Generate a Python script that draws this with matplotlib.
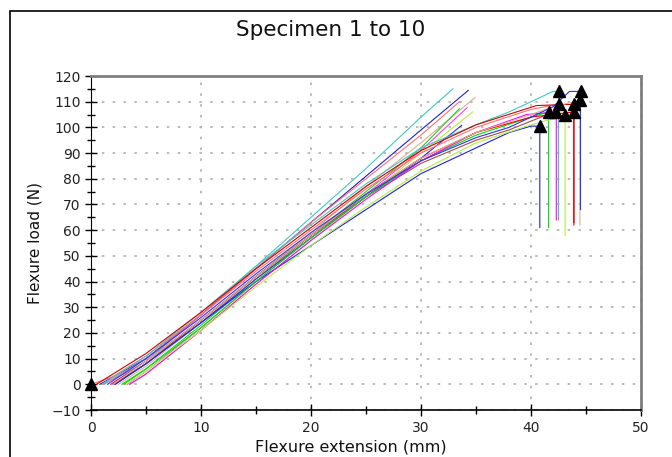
import matplotlib
matplotlib.use("Agg")
import matplotlib.pyplot as plt
from matplotlib.patches import Rectangle
from matplotlib.ticker import MultipleLocator

# full specimen curves (extension mm, load N), ending at break then drop
full_colors = ['#2020e0', '#00e000', '#ff00ff', '#ff7070', '#40c8c8',
               '#b0f040', '#ff0000', '#d00000', '#d8b090', '#3030ff']
full_x = [
    [2.2, 5, 10, 15, 20, 25, 30, 35, 38, 40, 40.8, 40.8],
    [3.0, 5, 10, 15, 20, 25, 30, 35, 40, 41.6, 41.6],
    [3.5, 5, 10, 15, 20, 25, 30, 35, 39.6, 42.3, 42.3],
    [0.0, 2, 5, 10, 15, 20, 25, 30, 35, 40, 42.5, 42.5],
    [1.0, 5, 10, 15, 20, 25, 30, 35, 38, 40, 42, 42.5, 42.5],
    [3.2, 5, 10, 15, 20, 25, 30, 35, 40, 43.1, 43.1],
    [1.8, 5, 10, 15, 20, 25, 30, 35, 40, 43.9, 43.9],
    [0.5, 5, 10, 15, 20, 25, 30, 35, 40.5, 43.9, 43.9],
    [2.0, 5, 10, 15, 20, 25, 30, 35, 40, 42, 44.45, 44.45],
    [1.5, 5, 10, 15, 20, 25, 30, 35, 38, 40, 42, 43.5, 44.5, 44.5],
]
full_y = [
    [0, 8, 24, 40, 54, 68, 82, 92, 98, 100.5, 100.5, 61],
    [0, 6, 22, 40, 57, 73, 87, 97, 104, 106, 61],
    [0, 4, 21, 39, 56, 72, 87, 98, 105, 106, 64],
    [0, 3, 11, 27, 44, 60, 76, 90, 100, 107, 109, 64],
    [0, 11, 28, 46, 62, 78, 92, 101, 106, 110, 114, 114, 65],
    [0, 5, 21, 38, 54, 69, 83, 94, 101, 104.7, 58],
    [0, 9, 25, 42, 58, 74, 88, 98, 104, 106, 62],
    [0, 12, 28, 45, 61, 77, 91, 101, 108.5, 109, 63],
    [0, 9, 25, 42, 58, 74, 88, 98, 105, 108, 110.5, 62],
    [0, 10, 26, 43, 59, 74, 87, 96, 100, 104, 108, 114, 114, 68],
]

# partial (straight) curves
part_colors = ['#40c8c8', '#2020d0', '#ff7070', '#d8b090', '#20d020',
               '#ff40ff', '#b0f040', '#3030e0', '#a05040']
part_x = [
    [1.0, 3, 5, 10, 15, 20, 25, 30, 32.9],
    [0.8, 5, 10, 15, 20, 25, 30, 34.3],
    [1.2, 5, 10, 15, 20, 25, 30, 33.5],
    [2.5, 5, 10, 15, 20, 25, 30, 34.9],
    [2.8, 5, 10, 15, 20, 25, 30, 33.5],
    [3.3, 5, 10, 15, 20, 25, 30, 34.2],
    [3.6, 5, 10, 15, 20, 25, 30, 34.7],
    [2.0, 5, 10, 15, 20, 25, 30, 33.7],
    [2.2, 5, 10, 15, 20, 25, 30, 35, 38, 41.5],
]
part_y = [
    [0, 4, 9, 27, 46, 65, 84, 104, 115],
    [0, 10, 27, 45, 63, 81, 99, 114.4],
    [0, 10, 27, 45, 63, 80, 97, 110],
    [0, 7, 24, 42, 59, 77, 94, 111.6],
    [0, 6, 23, 41, 58, 75, 92, 107.3],
    [0, 5, 22, 40, 57, 74, 91, 107.7],
    [0, 4, 21, 39, 56, 73, 90, 106],
    [0, 8, 24, 41, 57, 73, 88, 100.8],
    [0, 8, 25, 42, 58, 73, 86, 95, 99, 105],
]

# break markers
break_x = [0, 40.8, 41.6, 42.3, 42.5, 42.5, 43.1, 43.9, 43.9, 44.45, 44.5]
break_y = [0, 100.5, 106, 106, 109, 114, 104.7, 106, 109, 110.5, 114]

fig = plt.figure(figsize=(6.72, 4.57), dpi=100)
ax = fig.add_axes([91 / 672, 1 - 410 / 457, 550 / 672, 334 / 457])

for xs, ys, c in zip(part_x, part_y, part_colors):
    ax.plot(xs, ys, color=c, lw=0.8)
for xs, ys, c in zip(full_x, full_y, full_colors):
    ax.plot(xs, ys, color=c, lw=0.8)
ax.plot(break_x, break_y, '^', color='black', ms=8, ls='none', clip_on=False, zorder=5)

ax.set_xlim(0, 50)
ax.set_ylim(-10, 120)
ax.xaxis.set_major_locator(MultipleLocator(10))
ax.xaxis.set_minor_locator(MultipleLocator(5))
ax.yaxis.set_major_locator(MultipleLocator(10))
ax.yaxis.set_minor_locator(MultipleLocator(5))
ax.tick_params(which='major', direction='inout', length=8, width=1, labelsize=10,
               colors='black', labelcolor='#222222', top=False, right=False)
ax.tick_params(which='minor', direction='inout', length=6, width=1, top=False, right=False)
ax.tick_params(axis='x', pad=4)
ax.grid(True, which='major', color='#b0b0b0', linestyle=(0, (1.5, 5)), linewidth=1.2)

ax.spines['left'].set_color('black')
ax.spines['bottom'].set_color('black')
ax.spines['bottom'].set_linewidth(1.2)
ax.spines['top'].set_color('#808080')
ax.spines['top'].set_linewidth(2)
ax.spines['right'].set_color('#808080')
ax.spines['right'].set_linewidth(2)

fig.text(351 / 672, 5 / 457, 'Flexure extension (mm)', fontsize=11.5, ha='center',
         va='baseline', color='#111111')
ax.set_ylabel('Flexure load (N)', fontsize=11, labelpad=6, color='#111111')
fig.text(331 / 672, 1 - 30 / 457, 'Specimen 1 to 10', fontsize=15.5, ha='center',
         va='center', color='#111111')

# outer frame
fig.add_artist(Rectangle((10 / 672, -0.2), 1.2, 1 - 11 / 457 + 0.2,
                         transform=fig.transFigure, fill=False, edgecolor='black',
                         lw=1.2, clip_on=False))

fig.savefig('out.png', dpi=100)
